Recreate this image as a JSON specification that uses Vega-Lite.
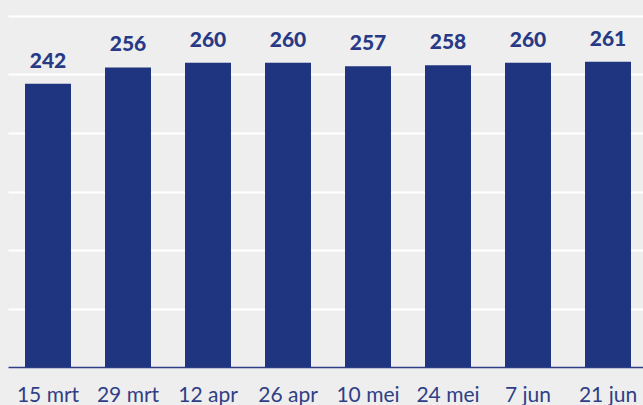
{
  "$schema": "https://vega.github.io/schema/vega-lite/v6.json",
  "width": 640,
  "height": 351,
  "autosize": {"type": "none"},
  "padding": {"left": 8, "top": 16, "right": 0, "bottom": 38},
  "background": "#eeeeee",
  "config": {"view": {"stroke": null}, "font": "Lato"},
  "data": {
    "values": [
      {"date": "15 mrt", "value": 242},
      {"date": "29 mrt", "value": 256},
      {"date": "12 apr", "value": 260},
      {"date": "26 apr", "value": 260},
      {"date": "10 mei", "value": 257},
      {"date": "24 mei", "value": 258},
      {"date": "7 jun", "value": 260},
      {"date": "21 jun", "value": 261}
    ]
  },
  "encoding": {
    "x": {
      "field": "date",
      "type": "nominal",
      "sort": null,
      "scale": {"paddingInner": 0.425, "paddingOuter": 0.2125},
      "axis": {
        "title": null,
        "labelAngle": 0,
        "labelFontSize": 21,
        "labelColor": "#2e3f86",
        "labelPadding": 17,
        "ticks": false,
        "domainColor": "#2e3f86",
        "domainWidth": 1.5,
        "grid": false
      }
    },
    "y": {
      "field": "value",
      "type": "quantitative",
      "scale": {"domain": [0, 300], "nice": false},
      "axis": {
        "title": null,
        "labels": false,
        "ticks": false,
        "domain": false,
        "values": [50, 100, 150, 200, 250, 300],
        "gridColor": "#ffffff",
        "gridWidth": 2
      }
    }
  },
  "layer": [
    {"mark": {"type": "bar", "color": "#1f3580"}},
    {
      "mark": {"type": "text", "baseline": "alphabetic", "dy": -16, "fontSize": 21, "fontWeight": 900, "color": "#283a86"},
      "encoding": {"text": {"field": "value", "type": "quantitative"}}
    }
  ]
}
